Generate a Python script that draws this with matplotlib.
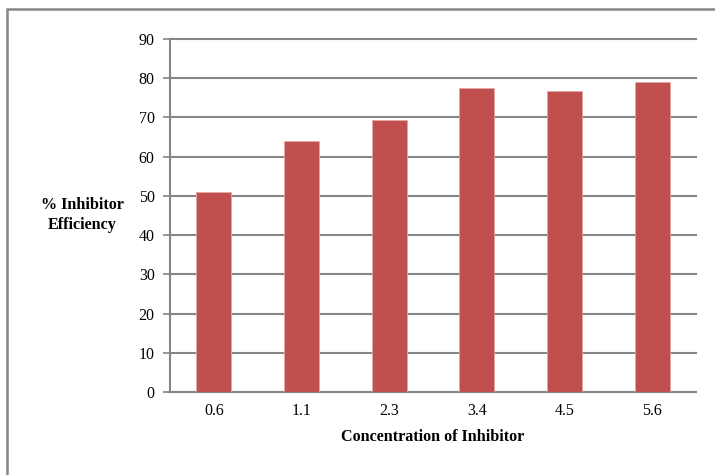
import matplotlib

matplotlib.use("Agg")
import matplotlib.pyplot as plt
from matplotlib.patches import Rectangle

concentrations = ["0.6", "1.1", "2.3", "3.4", "4.5", "5.6"]
efficiency = [51.0, 63.9, 69.4, 77.4, 76.7, 79.0]
y_ticks = [0, 10, 20, 30, 40, 50, 60, 70, 80, 90]

W, H = 715, 475
plt.rcParams["font.family"] = ["Liberation Serif", "DejaVu Serif"]

fig = plt.figure(figsize=(W / 100, H / 100), dpi=100)
ax = fig.add_axes([170 / W, 1 - 392 / H, (696 - 170) / W, (392 - 39) / H])

grey = "#868686"
x = list(range(len(concentrations)))
ax.bar(x, efficiency, width=0.4, color="#C0504D", edgecolor="#E6A5A3",
       linewidth=0.6, zorder=3)

ax.set_xlim(-0.5, len(concentrations) - 0.5)
ax.set_ylim(0, 90)
ax.set_yticks(y_ticks)
ax.set_xticks(x)
ax.set_xticklabels(concentrations)
ax.yaxis.grid(True, color=grey, linewidth=1.5, zorder=0)
ax.set_axisbelow(True)
for gl in ax.get_ygridlines():
    gl.set_clip_on(False)

for side in ["top", "right"]:
    ax.spines[side].set_visible(False)
for side in ["left", "bottom"]:
    ax.spines[side].set_color(grey)
    ax.spines[side].set_linewidth(1.5)

ax.tick_params(axis="y", length=5, width=1.2, color=grey, labelsize=11.5, pad=6)
ax.tick_params(axis="x", length=0, labelsize=11.5, pad=8)

fig.text(82 / W, 1 - 215 / H, "% Inhibitor\nEfficiency", ha="center", va="center",
         fontsize=11.6, fontweight="bold", linespacing=1.3)
fig.text(433 / W, 1 - 437 / H, "Concentration of Inhibitor", ha="center", va="center",
         fontsize=11.6, fontweight="bold")

# chart frame, running off the right and bottom edges
frame = Rectangle((7 / W, -0.1), 1.2, 1 - 9 / H + 0.1, transform=fig.transFigure,
                  fill=False, edgecolor=grey, linewidth=1.8)
fig.patches.append(frame)

fig.savefig("out.png", dpi=100)
